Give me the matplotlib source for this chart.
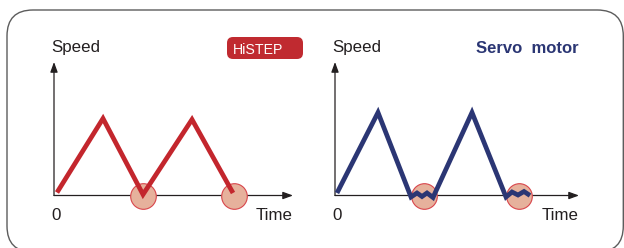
import matplotlib.pyplot as plt
from matplotlib.patches import FancyBboxPatch

plt.rcParams['font.family'] = ['Liberation Sans', 'DejaVu Sans']

# values in chart units (1 unit = 10 px), origin at the axis corner
red_time = [0.3, 4.9, 8.9, 13.8, 17.9]
red_speed = [0.3, 7.7, 0.1, 7.6, 0.25]
red_circle_time = [8.9, 18.0]
red_circle_speed = [0.0, 0.0]

blue_time = [0.2, 4.3, 7.6, 8.2, 8.7, 9.2, 9.8, 13.7, 17.1, 17.7, 18.3, 18.9, 19.5]
blue_speed = [0.25, 8.3, -0.15, 0.25, -0.1, 0.25, -0.2, 8.3, -0.15, 0.35, 0.05, 0.4, 0.0]
blue_circle_time = [8.9, 18.4]
blue_circle_speed = [0.0, 0.0]

W, H = 624, 248
INK = '#231f20'
RED = '#c3262d'
BLUE = '#2b3674'
CIRCLE_FC = '#e6b19c'
CIRCLE_EC = '#d8454b'

fig = plt.figure(figsize=(W / 100, H / 100), dpi=100)
fig.patch.set_facecolor('white')

# decoration layer in pixel coordinates (y measured up from the bottom)
deco = fig.add_axes([0, 0, 1, 1])
deco.set_xlim(0, W)
deco.set_ylim(0, H)
deco.set_axis_off()
deco.add_patch(FancyBboxPatch((7, -4), 616.3, 242, boxstyle='round,pad=0,rounding_size=26',
                              fc='none', ec='#5c5c5c', lw=1.0))
deco.add_patch(FancyBboxPatch((227, H - 59), 76, 22, boxstyle='round,pad=0,rounding_size=6',
                              fc='#c02a30', ec='none'))
deco.text(233, H - 54, 'HiSTEP', color='white', fontsize=10.2, ha='left', va='baseline')


def panel(x0, length, time, speed, ctime, cspeed, color):
    oy = 195.5
    height = 133.5
    ax = fig.add_axes([x0 / W, (H - oy) / H, length / W, height / H])
    ax.set_xlim(0, length / 10)
    ax.set_ylim(0, height / 10)
    ax.set_axis_off()
    arrow = dict(arrowstyle='-|>,head_length=0.6,head_width=0.22', color=INK, lw=0.9,
                 shrinkA=0, shrinkB=0, mutation_scale=10)
    ax.annotate('', xy=(1, 0), xytext=(0, 0), xycoords='axes fraction',
                arrowprops=arrow, zorder=2, annotation_clip=False)
    ax.annotate('', xy=(0, 1), xytext=(0, 0), xycoords='axes fraction',
                arrowprops=arrow, zorder=2, annotation_clip=False)
    ax.scatter(ctime, cspeed, s=340, fc=CIRCLE_FC, ec=CIRCLE_EC, lw=0.8,
               zorder=3, clip_on=False)
    ax.plot(time, speed, color=color, lw=3.4, solid_joinstyle='miter',
            solid_capstyle='butt', zorder=4, clip_on=False)
    ax.text(-0.3, 14.35, 'Speed', fontsize=12.2, color=INK, ha='left', va='baseline')
    ax.text(0.2, -2.45, '0', fontsize=12.2, color=INK, ha='center', va='baseline')
    ax.text(length / 10, -2.45, 'Time', fontsize=12.2, color=INK, ha='right', va='baseline')
    return ax


panel(54, 239, red_time, red_speed, red_circle_time, red_circle_speed, RED)
ax2 = panel(335, 244, blue_time, blue_speed, blue_circle_time, blue_circle_speed, BLUE)
ax2.text(24.4, 14.25, 'Servo  motor', fontsize=12, fontweight='bold', color=BLUE,
         ha='right', va='baseline')

fig.savefig('out.png', dpi=100)
